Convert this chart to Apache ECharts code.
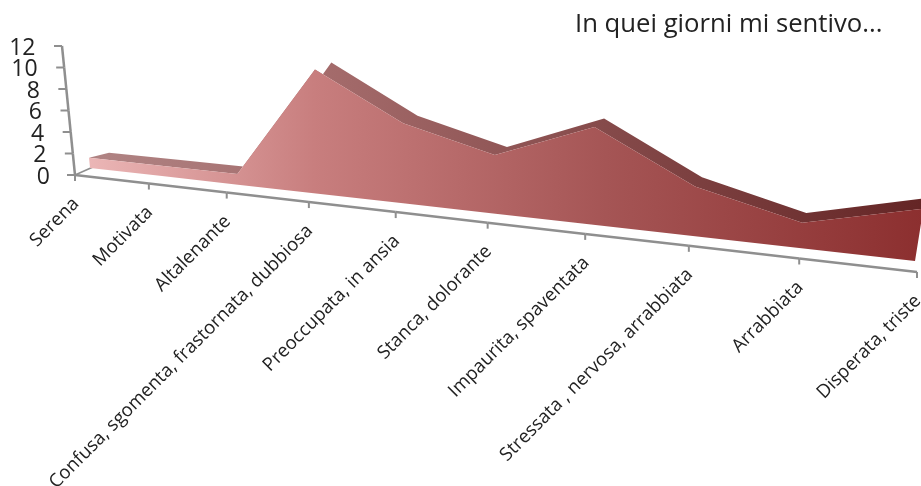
<!DOCTYPE html>
<html><head><meta charset="utf-8">
<style>html,body{margin:0;padding:0;background:#fff}#c{width:921px;height:486px}</style>
<script src="https://cdn.jsdelivr.net/npm/echarts@6/dist/echarts.min.js"></script>
</head><body><div id="c"></div>
<script>
const categories = ['Serena','Motivata','Altalenante','Confusa, sgomenta, frastornata, dubbiosa','Preoccupata, in ansia','Stanca, dolorante','Impaurita, spaventata','Stressata , nervosa, arrabbiata','Arrabbiata','Disperata, triste'];
const values = [1, 1, 1, 11, 7, 5, 8, 4, 2, 4];
const yTickLabels = ['0','2','4','6','8','10','12'];
const titleText = 'In quei giorni mi sentivo...';

// perspective view of the chart's front plane (unit square -> picture)
const Q = [[90,168],[915,261],[941,99],[78,42]];
const H = (function(){
  const [[x0,y0],[x1,y1],[x2,y2],[x3,y3]] = Q;
  const sx=x0-x1+x2-x3, sy=y0-y1+y2-y3, dx1=x1-x2, dx2=x3-x2, dy1=y1-y2, dy2=y3-y2;
  const det=dx1*dy2-dx2*dy1, g=(sx*dy2-dx2*sy)/det, h=(dx1*sy-sx*dy1)/det;
  return {a:x1-x0+g*x1,b:x3-x0+h*x3,c:x0,d:y1-y0+g*y1,e:y3-y0+h*y3,f:y0,g,h};
})();
function lerp(a,b,t){return a+(b-a)*t;}
function project(u,w){
  const k=H.g*u+H.h*w+1;
  return [(H.a*u+H.b*w+H.c)/k,(H.d*u+H.e*w+H.f)/k];
}
function norm(api,params,i,v){
  const p=api.coord([i,v]), s=params.coordSys;
  return [(p[0]-s.x)/s.width, 1-(p[1]-s.y)/s.height];
}
function front(api,params,i,v){const n=norm(api,params,i,v);return project(n[0],n[1]);}
function back(api,params,i,v){
  const n=norm(api,params,i,v), p=project(n[0],n[1]);
  return [p[0]+20-19*Math.pow(n[0],1.5), p[1]+lerp(-5,-10.5,n[0])];
}
function floor(api,params,i){
  const n=norm(api,params,i,0), p=project(n[0],0);
  return [p[0]+lerp(-15,2,n[0]), p[1]+lerp(7,11,n[0])];
}
const gradFront=[[0,'#ebb6b6'],[0.27,'#c87e7e'],[0.62,'#a55555'],[1,'#8c2f2f']];
const gradTop=[[0,'#b08484'],[0.3,'#a36a6a'],[0.62,'#854a4a'],[1,'#642525']];
function grad(st){return new echarts.graphic.LinearGradient(0,0,1,0,st.map(s=>({offset:s[0],color:s[1]})));}
const AXIS='#8f8f8f', TXT='#222222', FONT='"Open Sans"';

function renderArea(params,api){
  if(params.dataIndex!==0) return null;
  const fr=values.map((v,i)=>front(api,params,i,v));
  const bk=values.map((v,i)=>back(api,params,i,v));
  const base=values.map((v,i)=>front(api,params,i,0));
  return {type:'group',silent:true,children:[
    {type:'polygon',shape:{points:fr.concat(bk.slice().reverse())},style:{fill:grad(gradTop)}},
    {type:'polygon',shape:{points:fr.concat(base.slice().reverse())},style:{fill:grad(gradFront)}}
  ]};
}
function renderXAxis(params,api){
  const i=params.dataIndex, p=floor(api,params,i), kids=[];
  if(i<categories.length-1){
    const q=floor(api,params,i+1);
    kids.push({type:'line',shape:{x1:p[0],y1:p[1],x2:q[0],y2:q[1]},style:{stroke:AXIS,lineWidth:2.5}});
  }
  kids.push({type:'line',shape:{x1:p[0],y1:p[1],x2:p[0],y2:p[1]+6},style:{stroke:AXIS,lineWidth:2}});
  kids.push({type:'text',x:p[0]+1,y:p[1]+26,rotation:Math.PI/4,
    style:{text:categories[i],align:'right',verticalAlign:'middle',font:'18.6px '+FONT,fill:TXT}});
  if(i===0){
    const f=front(api,params,0,0);
    kids.push({type:'line',shape:{x1:p[0],y1:p[1],x2:f[0]+3,y2:f[1]-1},style:{stroke:AXIS,lineWidth:1.5}});
  }
  return {type:'group',silent:true,children:kids};
}
function yPoint(api,params,v){
  const w=norm(api,params,0,v)[1];
  return [lerp(75,62,w),lerp(175,46,w)];
}
function renderYAxis(params,api){
  const i=params.dataIndex, v=+yTickLabels[i], p=yPoint(api,params,v), kids=[];
  if(i<yTickLabels.length-1){
    const q=yPoint(api,params,+yTickLabels[i+1]);
    kids.push({type:'line',shape:{x1:p[0],y1:p[1],x2:q[0],y2:q[1]},style:{stroke:AXIS,lineWidth:2.5}});
  }
  kids.push({type:'line',shape:{x1:p[0]-8,y1:p[1],x2:p[0],y2:p[1]},style:{stroke:AXIS,lineWidth:2}});
  kids.push({type:'text',x:p[0]-(v===0?25:26.5),y:p[1]+2,
    style:{text:yTickLabels[i],align:'right',verticalAlign:'middle',font:'23px '+FONT,fill:TXT}});
  return {type:'group',silent:true,children:kids};
}
const chart=echarts.init(document.getElementById('c'));
chart.setOption({
  animation:false,
  backgroundColor:'#fff',
  title:{text:titleText,left:570,top:7,textStyle:{fontFamily:FONT,fontSize:25.7,fontWeight:'normal',color:TXT}},
  grid:{left:100,top:100,width:700,height:240},
  xAxis:{type:'category',data:categories,boundaryGap:false,show:false},
  yAxis:{type:'value',min:0,max:12,interval:2,show:false},
  series:[
    {type:'custom',coordinateSystem:'cartesian2d',clip:false,renderItem:renderYAxis,data:yTickLabels.map(t=>[0,+t]),z:1},
    {type:'custom',coordinateSystem:'cartesian2d',clip:false,renderItem:renderXAxis,data:categories.map((c,i)=>[i,0]),z:1},
    {type:'custom',coordinateSystem:'cartesian2d',clip:false,renderItem:renderArea,data:values.map((v,i)=>[i,v]),z:2}
  ]
});
</script></body></html>
